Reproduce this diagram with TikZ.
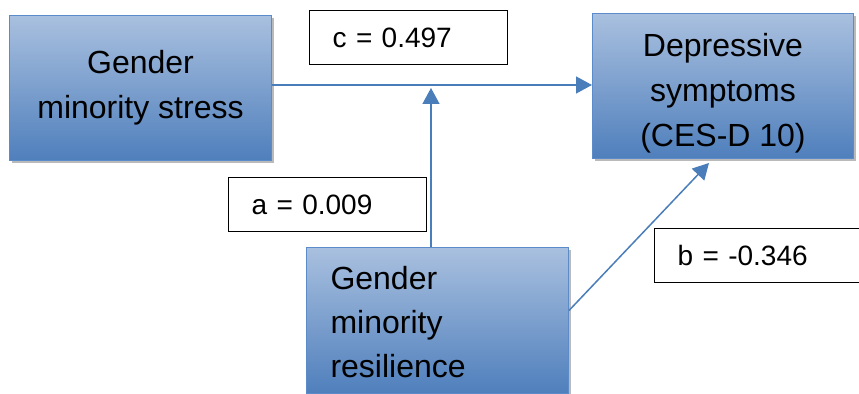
\documentclass[tikz,border=0pt]{standalone}
\usepackage{fontspec}
\setmainfont{Liberation Sans}
\usetikzlibrary{arrows.meta,shadows}
\definecolor{boxtop}{HTML}{A9C0DF}
\definecolor{boxbot}{HTML}{4F7FBC}
\definecolor{boxline}{HTML}{5B8BC9}
\definecolor{linkblue}{HTML}{4A7EBB}

\begin{document}
\begin{tikzpicture}[x=0.5pt,y=-0.5pt,
  box/.style={draw=boxline,line width=0.5pt,top color=boxtop,bottom color=boxbot,
    drop shadow={shadow xshift=1.2pt,shadow yshift=-1.5pt,opacity=0.45,fill=black!60},
    inner sep=0pt,font=\fontsize{16}{22.5}\selectfont},
  lbl/.style={draw=black,fill=white,line width=0.7pt,inner xsep=11.5pt,inner ysep=0pt,
    text width=76pt,minimum height=27pt,align=left,font=\fontsize{14}{16}\selectfont},
  link/.style={draw=linkblue,line width=0.75pt,-{Triangle[length=8pt,width=8.5pt]}}]
\useasboundingbox (0,0) rectangle (859,394);

\node[box,anchor=north west,minimum width=131pt,minimum height=72.5pt,align=center] (stress) at (9,15) {Gender\\minority stress};
\node[box,anchor=north west,minimum width=130.5pt,minimum height=72.5pt,align=center,text height=60.5pt,text depth=0pt] (depr) at (592,13) {Depressive\\symptoms\\(CES-D 10)};
\node[box,anchor=north west,minimum height=73pt,text width=107pt,inner xsep=12pt,align=left,font=\fontsize{16}{22}\selectfont,text height=11.5pt,text depth=42.5pt] (resil) at (306,247) {Gender\\minority\\resilience};

\node[lbl,anchor=north west] (cval) at (309,10) {c = 0.497};
\node[lbl,anchor=north west] (aval) at (228,177) {a = 0.009};
\node[lbl,anchor=north west,text width=90pt] (bval) at (654,228) {b = -0.346};

\coordinate (meet) at (431,88);

\draw[link] ([yshift=1.5pt]stress.east) -- ([yshift=1.5pt]stress.east -| depr.west);
\draw[link] (resil.north -| meet) -- (meet);
\draw[link] ([yshift=5pt]resil.east) -- ([shift={(-7pt,-2pt)}]depr.south);
\end{tikzpicture}
\end{document}
